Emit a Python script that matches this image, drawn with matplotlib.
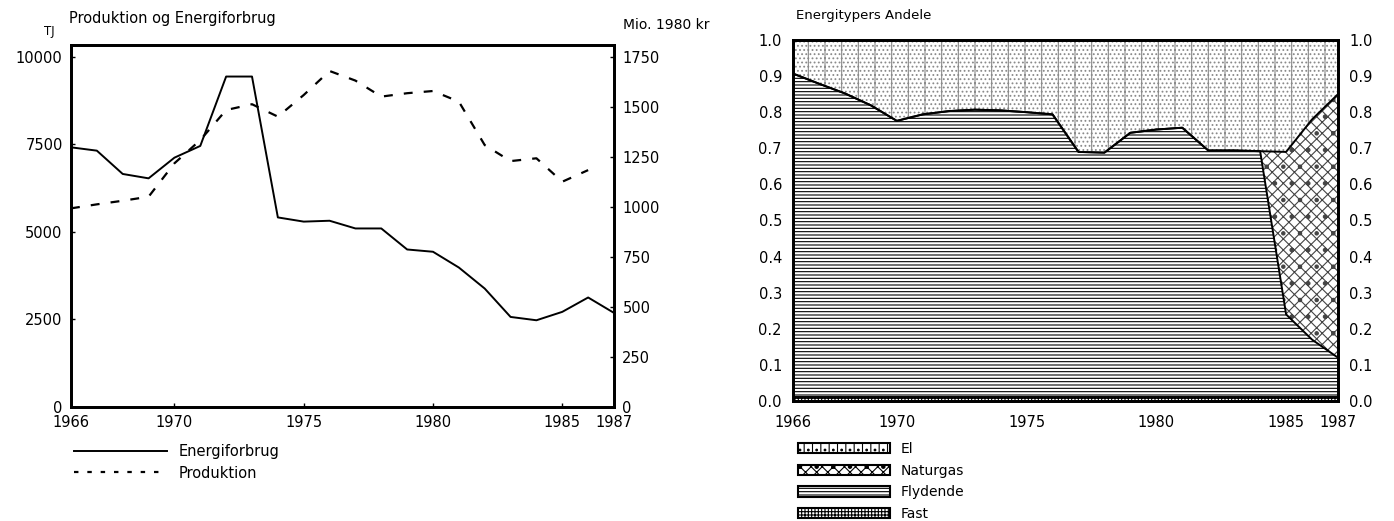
import matplotlib
matplotlib.use("Agg")
import matplotlib.pyplot as plt
from matplotlib.lines import Line2D
from matplotlib.patches import Patch
import numpy as np

plt.rcParams['font.family'] = ['DejaVu Sans']
plt.rcParams['hatch.linewidth'] = 0.8

years = list(range(1966, 1988))
xticks = [1966, 1970, 1975, 1980, 1985, 1987]

# left chart: TJ (left axis) and Mio. 1980 kr (right axis)
energiforbrug = [7410, 7315, 6650, 6525, 7115, 7450, 9430, 9430, 5410, 5290, 5315,
                 5095, 5095, 4495, 4430, 3980, 3380, 2570, 2475, 2715, 3125, 2685]
prod_years = list(range(1966, 1987))
produktion = [992, 1012, 1030, 1050, 1217, 1333, 1483, 1512, 1450, 1558, 1678,
              1630, 1550, 1567, 1578, 1525, 1308, 1228, 1242, 1125, 1183]

# right chart: shares of energy types
fast = [0.01] * 22
flydende = [0.897, 0.869, 0.842, 0.809, 0.766, 0.784, 0.793, 0.797, 0.795, 0.790, 0.784,
            0.680, 0.678, 0.733, 0.742, 0.747, 0.684, 0.684, 0.682, 0.230, 0.160, 0.110]
naturgas = [0, 0, 0, 0, 0, 0, 0, 0, 0, 0, 0,
            0, 0, 0, 0, 0, 0, 0, 0, 0.450, 0.610, 0.730]
el = [0.093, 0.121, 0.148, 0.181, 0.224, 0.206, 0.197, 0.193, 0.195, 0.200, 0.206,
      0.310, 0.312, 0.257, 0.248, 0.243, 0.306, 0.306, 0.308, 0.310, 0.220, 0.150]

fig = plt.figure(figsize=(13.94, 5.21), dpi=100)

# ---- left chart
ax = fig.add_axes([71 / 1394, 1 - 407 / 521, 543 / 1394, 362 / 521])
ax2 = ax.twinx()
ax.plot(years, energiforbrug, color='black', lw=1.4)
ax2.plot(prod_years, produktion, color='black', lw=1.6, linestyle=(0, (4, 5)))
ax.set_xlim(1966, 1987)
ax.set_ylim(0, 10330)
ax2.set_ylim(0, 1750 * 10330 / 10000)
ax.set_yticks([0, 2500, 5000, 7500, 10000])
ax2.set_yticks([0, 250, 500, 750, 1000, 1250, 1500, 1750])
ax.set_xticks(xticks)
for a in (ax, ax2):
    a.tick_params(direction='in', length=3, width=1, labelsize=10.5, pad=6)
    for s in a.spines.values():
        s.set_linewidth(2)

fig.text(49 / 1394, 1 - 32 / 521, 'TJ', fontsize=8.5, ha='center', va='center')
fig.text(69 / 1394, 1 - 18 / 521, 'Produktion og Energiforbrug', fontsize=10.5, va='center')
fig.text(623 / 1394, 1 - 25 / 521, 'Mio. 1980 kr', fontsize=10, va='center')

fig.legend(handles=[Line2D([], [], color='black', lw=1.4),
                    Line2D([], [], color='black', lw=1.6, linestyle=(0, (2, 4)))],
           labels=['Energiforbrug', 'Produktion'],
           loc='upper left', bbox_to_anchor=(74 / 1394, 1 - 444 / 521),
           frameon=False, fontsize=10.5, handlelength=6.4, handletextpad=0.8,
           labelspacing=0.45, borderpad=0, borderaxespad=0)

# ---- right chart
bx = fig.add_axes([793 / 1394, 1 - 401 / 521, 545 / 1394, 361 / 521])
y0 = np.zeros(len(years))
layers = [(fast, '+++++', 'black'),
          (flydende, '-----', 'black'),
          (naturgas, 'xxx.', '#444444'),
          (el, '|....', '#8a8a8a')]
tops = []
for vals, hatch, hc in layers:
    y1 = y0 + np.array(vals)
    bx.fill_between(years, y0, y1, facecolor='white', edgecolor=hc, hatch=hatch, linewidth=0)
    tops.append(y1)
    y0 = y1
for t in tops[:3]:
    bx.plot(years, t, color='black', lw=1.4)
bx.set_xlim(1966, 1987)
bx.set_ylim(0, 1.0)
bx.set_xticks(xticks)
bx.set_yticks(np.round(np.arange(0, 1.01, 0.1), 1))
bx.yaxis.set_major_formatter(matplotlib.ticker.FormatStrFormatter('%.1f'))
bx2 = bx.twinx()
bx2.set_ylim(0, 1.0)
bx2.set_yticks(np.round(np.arange(0, 1.01, 0.1), 1))
bx2.yaxis.set_major_formatter(matplotlib.ticker.FormatStrFormatter('%.1f'))
for a in (bx, bx2):
    a.tick_params(direction='in', length=0, labelsize=10.5, pad=8)
    for s in a.spines.values():
        s.set_linewidth(2)
bx.tick_params(axis='x', pad=10)

fig.text(796 / 1394, 1 - 15 / 521, 'Energitypers Andele', fontsize=9.5, va='center')

handles = [Patch(facecolor='white', edgecolor='black', hatch='||..', lw=1.5),
           Patch(facecolor='white', edgecolor='black', hatch='xxx.', lw=1.5),
           Patch(facecolor='white', edgecolor='black', hatch='-----', lw=1.5),
           Patch(facecolor='white', edgecolor='black', hatch='+++++', lw=1.5)]
fig.legend(handles=handles, labels=['El', 'Naturgas', 'Flydende', 'Fast'],
           loc='upper left', bbox_to_anchor=(798 / 1394, 1 - 442 / 521),
           frameon=False, fontsize=10, handlelength=6.6, handleheight=0.75,
           handletextpad=0.8, labelspacing=0.55, borderpad=0, borderaxespad=0)

fig.savefig('out.png', dpi=100)
